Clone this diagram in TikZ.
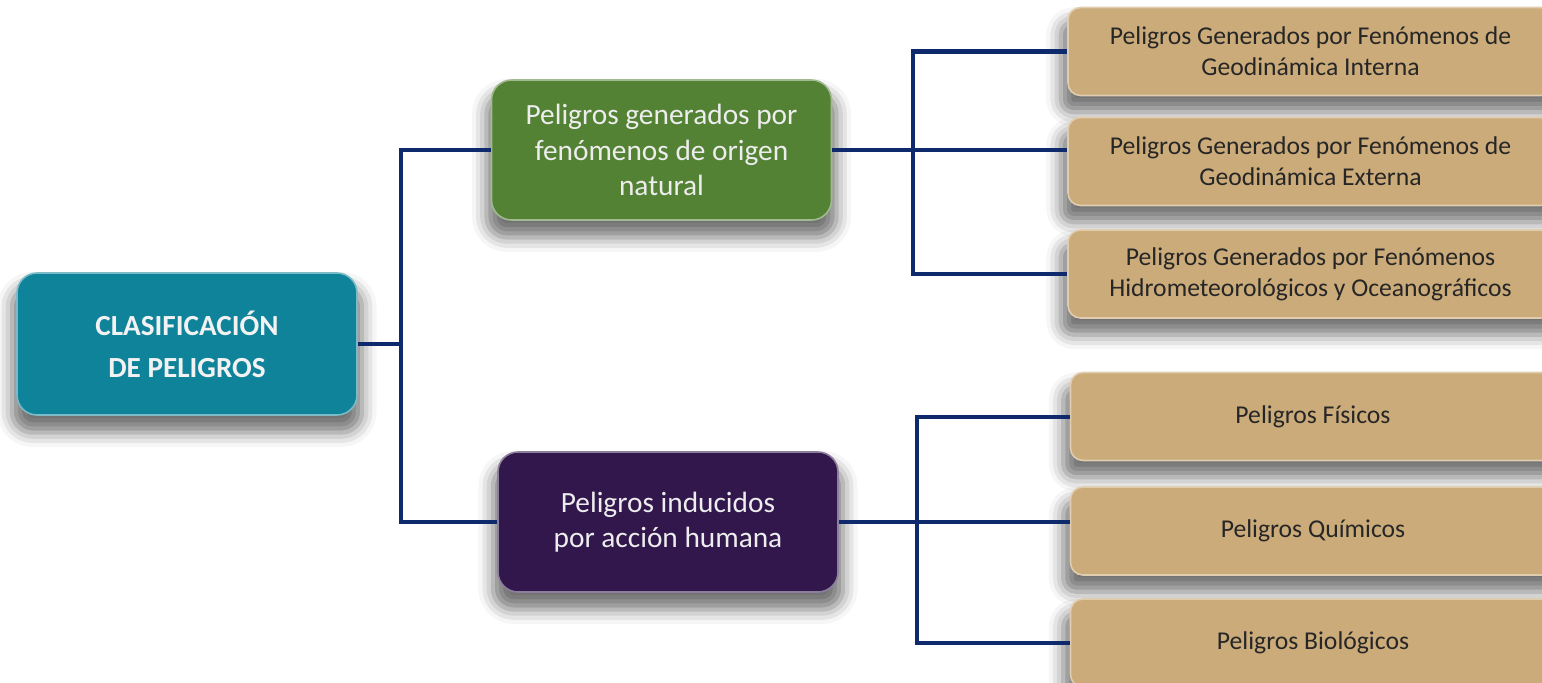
\documentclass[tikz,border=0pt]{standalone}
\usepackage{fontspec}
\setmainfont{Carlito}
\usepackage{xcolor}
\usepackage{tikz}
\usetikzlibrary{shadows.blur}

\definecolor{rootteal}{HTML}{0F839A}
\definecolor{natgreen}{HTML}{548235}
\definecolor{humpurple}{HTML}{32174D}
\definecolor{leaftan}{HTML}{CBAB7A}
\definecolor{linknavy}{HTML}{0E2A6C}

\begin{document}
\begin{tikzpicture}[
		box/.style={rounded corners=0.4cm, align=center, inner sep=0pt, line width=0.9pt,
			blur shadow={shadow xshift=0pt, shadow yshift=-0.3cm, shadow scale=1.03,
				shadow blur radius=0.28cm, shadow opacity=55}},
		rootbox/.style={box, fill=rootteal, draw=rootteal!55!white, text=white!95!black,
			minimum width=6.8cm, minimum height=2.84cm, font=\fontsize{16.6}{24}\selectfont\bfseries},
		midbox/.style={box, text=white!93!black, minimum width=6.8cm, minimum height=2.8cm,
			font=\fontsize{16.7}{20}\selectfont},
		leafbox/.style={box, rounded corners=0.25cm, fill=leaftan, draw=leaftan!60!white,
			text=black!85, minimum width=9.7cm, minimum height=1.76cm, font=\fontsize{14.6}{17.6}\selectfont},
		link/.style={draw=linknavy, line width=0.08cm}
	]
		\useasboundingbox (0,0) rectangle (30.84,13.64);
		\node[rootbox] (clasif) at (3.74,6.76) {CLASIFICACIÓN\\DE PELIGROS};
		\node[midbox, fill=natgreen, draw=natgreen!55!white] (natural) at (13.23,10.64) {Peligros generados por\\fenómenos de origen\\natural};
		\node[midbox, fill=humpurple, draw=humpurple!55!white] (humano) at (13.36,3.2) {Peligros inducidos\\por acción humana};
		\node[leafbox] (interna) at (26.21,12.61) {Peligros Generados por Fenómenos de\\Geodinámica Interna};
		\node[leafbox] (externa) at (26.21,10.41) {Peligros Generados por Fenómenos de\\Geodinámica Externa};
		\node[leafbox] (hidro) at (26.21,8.16) {Peligros Generados por Fenómenos\\Hidrometeorológicos y Oceanográficos};
		\node[leafbox] (fisicos) at (26.26,5.31) {Peligros Físicos};
		\node[leafbox] (quimicos) at (26.26,3.02) {Peligros Químicos};
		\node[leafbox] (biolog) at (26.26,0.78) {Peligros Biológicos};
		\draw[link] (clasif.east) -- ++(0.86,0) |- (natural.west);
		\draw[link] (clasif.east) -- ++(0.86,0) |- (humano.west);
		\draw[link] (natural.east) -- ++(1.62,0) |- (interna.west);
		\draw[link] (natural.east) -- (externa.west |- natural.east);
		\draw[link] (natural.east) -- ++(1.62,0) |- (hidro.west);
		\draw[link] (humano.east) -- ++(1.56,0) |- (fisicos.west);
		\draw[link] (humano.east) -- (quimicos.west |- humano.east);
		\draw[link] (humano.east) -- ++(1.56,0) |- (biolog.west);
\end{tikzpicture}
\end{document}
